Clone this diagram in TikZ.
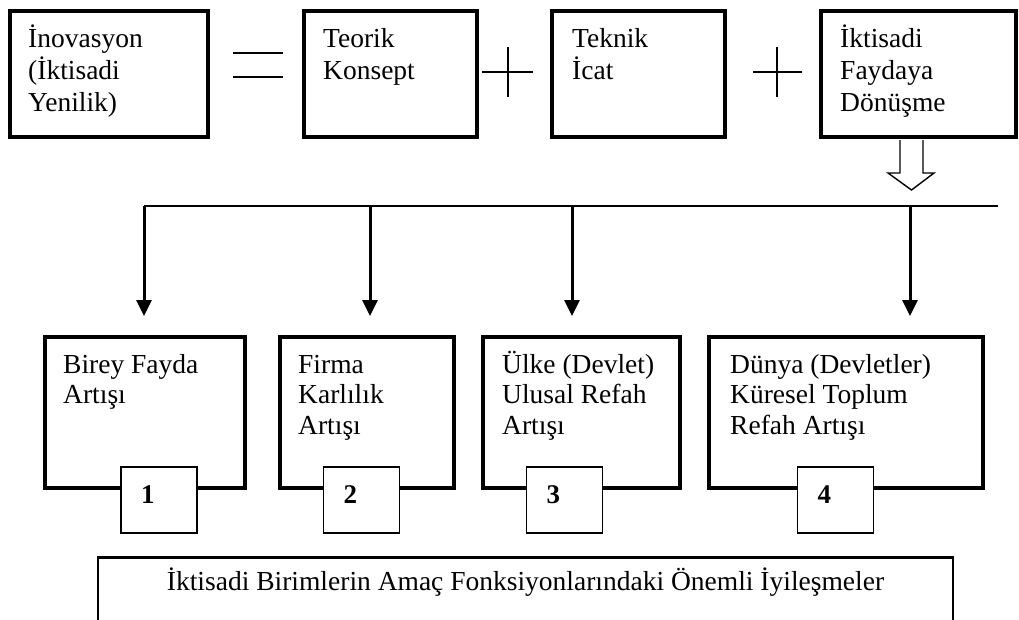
\documentclass[tikz,border=0pt]{standalone}
\usepackage{fontspec}
\setmainfont{Liberation Serif}
\usetikzlibrary{arrows.meta}

% multi-line box text whose reference point is the first baseline
\newcommand\boxlines[1]{\begin{tabular}[t]{@{}l@{}}#1\end{tabular}}

\tikzset{
  topbox/.style={draw, line width=4.5pt, minimum height=126, inner sep=0},
  unitbox/.style={draw, line width=4.5pt, minimum height=151, inner sep=0},
  numbox/.style={draw, line width=1.5pt, fill=white, minimum width=76, minimum height=66,
    inner sep=0, text width=36pt, align=left, text depth=10pt,
    font=\fontsize{27}{27}\selectfont\bfseries},
  goalbox/.style={draw, line width=2.5pt, minimum width=855, minimum height=100, inner sep=0},
  boxtext/.style={anchor=base west, inner sep=0, font=\fontsize{27.5}{30.5}\selectfont},
  toptext/.style={boxtext, font=\fontsize{27.5}{32}\selectfont},
  sign/.style={line width=2.5pt},
  bus/.style={line width=2.5pt},
  drop/.style={line width=3pt, -{Triangle[length=16pt,width=15pt]}},
  hollow/.style={line width=1.4pt, line join=miter},
}

\begin{document}
\begin{tikzpicture}[x=1pt, y=-1pt]
\useasboundingbox (0,0) rectangle (1019,619);

% --- top row: innovation = concept + invention + economic use
\node[topbox, minimum width=198] (inov) at (109,74) {};
\node[topbox, minimum width=173] (teorik) at (390.5,74) {};
\node[topbox, minimum width=173] (teknik) at (638.5,74) {};
\node[topbox, minimum width=195] (fayda) at (918.5,74) {};

\node[toptext] (tinov) at (28,47) {\boxlines{İnovasyon\\(İktisadi\\Yenilik)}};
\node[toptext] (tteorik) at (323,47) {\boxlines{Teorik\\Konsept}};
\node[toptext] (tteknik) at (572,47) {\boxlines{Teknik\\İcat}};
\node[toptext] (tfayda) at (840,47) {\boxlines{İktisadi\\Faydaya\\Dönüşme}};

% operators between the boxes
\draw[sign] (233,53) -- (283,53);
\draw[sign] (233,77) -- (283,77);
\draw[sign] (482,72) -- (533,72);
\draw[sign] (508,47) -- (508,97);
\draw[sign] (753,72) -- (802,72);
\draw[sign] (777,47) -- (777,97);

% hollow block arrow below the last box
\coordinate (ha) at (911.5,138);
\draw[hollow] ([shift={(-11.5,2)}]ha) -- ([shift={(-11.5,35)}]ha) -- ([shift={(-23.5,35)}]ha)
  -- ([shift={(0,52)}]ha) -- ([shift={(22.5,35)}]ha) -- ([shift={(11.5,35)}]ha)
  -- ([shift={(11.5,2)}]ha);

% --- distribution bus
\coordinate (busL) at (144,206);
\coordinate (busR) at (998,206);
\coordinate (j2) at (370,206);
\coordinate (j3) at (572,206);
\coordinate (j4) at (910,206);
\coordinate (t1) at (144,316);
\coordinate (t2) at (370,316);
\coordinate (t3) at (572,316);
\coordinate (t4) at (910,316);
\draw[bus] (busL) -- (busR);
\draw[drop] (busL) -- (t1);
\draw[drop] (j2) -- (t2);
\draw[drop] (j3) -- (t3);
\draw[drop] (j4) -- (t4);

% --- economic units
\node[unitbox, minimum width=200] (birey) at (145,412.5) {};
\node[unitbox, minimum width=174] (firma) at (367,412.5) {};
\node[unitbox, minimum width=197] (ulke) at (581.5,412.5) {};
\node[unitbox, minimum width=274] (dunya) at (846,412.5) {};

\node[boxtext] (tbirey) at (63,373) {\boxlines{Birey Fayda\\Artışı}};
\node[boxtext] (tfirma) at (298,373) {\boxlines{Firma\\Karlılık\\Artışı}};
\node[boxtext] (tulke) at (502,373) {\boxlines{Ülke (Devlet)\\Ulusal Refah\\Artışı}};
\node[boxtext] (tdunya) at (730,373) {\boxlines{Dünya (Devletler)\\Küresel Toplum\\Refah Artışı}};

\node[numbox] (n1) at (159,500) {1};
\node[numbox] (n2) at (361.5,500) {2};
\node[numbox] (n3) at (564.5,500) {3};
\node[numbox] (n4) at (835.5,500) {4};

% --- common outcome
\node[goalbox, anchor=north] (goal) at (525.5,556) {};
\node[anchor=base, inner sep=0, font=\fontsize{27.5}{30.5}\selectfont] (tgoal)
  at ([shift={(0,34)}]goal.north) {İktisadi Birimlerin Amaç Fonksiyonlarındaki Önemli İyileşmeler};
\end{tikzpicture}
\end{document}
